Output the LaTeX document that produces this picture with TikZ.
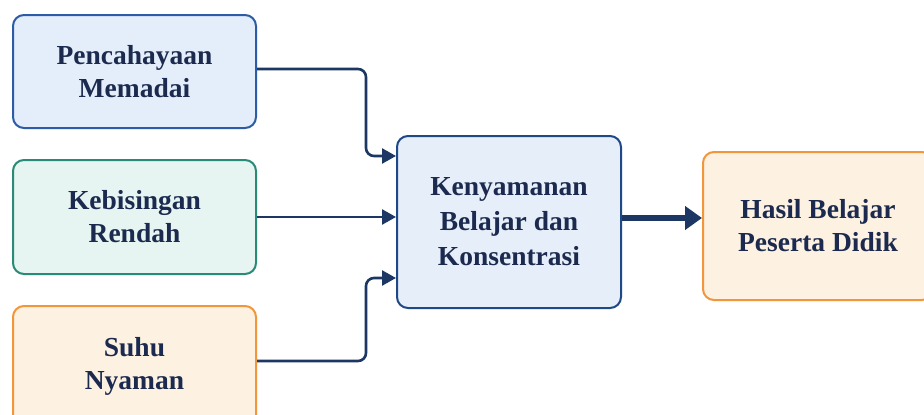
\documentclass[tikz,border=0pt]{standalone}
\usepackage{fontspec}
\setmainfont{Liberation Serif}
\usetikzlibrary{arrows.meta,calc}
\definecolor{txt}{HTML}{1B2A4E}
\definecolor{navy}{HTML}{1C3763}
\definecolor{bluefill}{HTML}{E4EEFA}
\definecolor{blueline}{HTML}{2C5CA6}
\definecolor{tealfill}{HTML}{E6F5F1}
\definecolor{tealline}{HTML}{2A8A78}
\definecolor{orfill}{HTML}{FDF1E2}
\definecolor{orline}{HTML}{F2963C}
\definecolor{cfill}{HTML}{E5EEF9}
\definecolor{cline}{HTML}{1F4886}
\tikzset{
  box/.style={draw, line width=2pt, rounded corners=11pt, align=center,
    text=txt, font=\fontsize{27.5}{33}\selectfont\bfseries, inner sep=0pt},
  conn/.style={draw=navy, line width=2.6pt, rounded corners=8pt,
    -{Triangle[length=14pt,width=15pt]}},
  thick/.style={draw=navy, line width=5.5pt, -{Triangle[length=17pt,width=23pt]}}
}
\begin{document}
\begin{tikzpicture}[x=1pt,y=-1pt]
\useasboundingbox (0,0) rectangle (924,415);
\clip (0,0) rectangle (924,415);
\fill[white] (0,0) rectangle (924,415);
\node[box, fill=bluefill, draw=blueline, minimum width=243pt, minimum height=113pt] (b1) at (134.5,71.5) {Pencahayaan\\Memadai};
\node[box, fill=tealfill, draw=tealline, minimum width=243pt, minimum height=114pt] (b2) at (134.5,217) {Kebisingan\\Rendah};
\node[box, fill=orfill, draw=orline, minimum width=243pt, minimum height=120pt] (b3) at (134.5,366) {Suhu\\Nyaman};
\node[box, fill=cfill, draw=cline, minimum width=224pt, minimum height=172pt, font=\fontsize{27.5}{35}\selectfont\bfseries] (c) at (509,222) {Kenyamanan\\Belajar dan\\Konsentrasi};
\node[box, fill=orfill, draw=orline, minimum width=230pt, minimum height=148pt] (r) at (818,226) {Hasil Belajar\\Peserta Didik};
\draw[conn] ([yshift=2.5pt]b1.east) -- ++(109,0) |- ([yshift=-21pt]c.north west);
\draw[conn] (b2.east) -- (c.west |- b2.east);
\draw[conn] ([yshift=5pt]b3.east) -- ++(109,0) |- ([yshift=31pt]c.south west);
\draw[thick] ([yshift=4pt]c.east) -- ([yshift=4pt]c.east -| r.west);
\end{tikzpicture}
\end{document}
